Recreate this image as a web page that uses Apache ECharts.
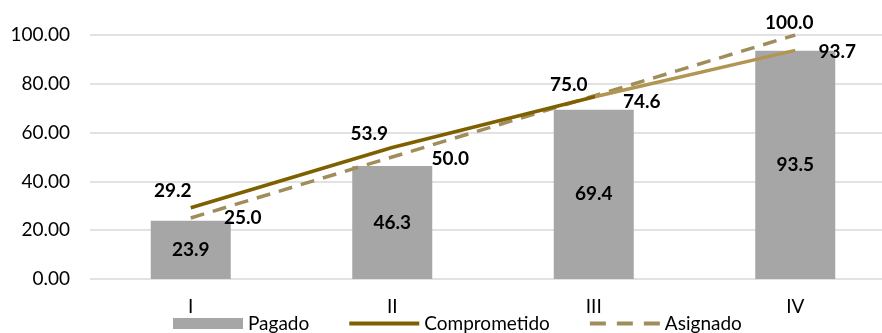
<!DOCTYPE html>
<html>
<head>
<meta charset="utf-8">
<style>
  html, body { margin: 0; padding: 0; background: #ffffff; }
  #chart { width: 882px; height: 333px; }
</style>
<script src="https://cdn.jsdelivr.net/npm/echarts@6/dist/echarts.min.js"></script>
</head>
<body>
<div id="chart"></div>
<script>
// Quarterly budget progress (%)
const categories = ['I', 'II', 'III', 'IV'];
const pagado = [23.9, 46.3, 69.4, 93.5];
const comprometido = [29.2, 53.9, 74.6, 93.7];
const asignado = [25.0, 50.0, 75.0, 100.0];

// label nudges for the line values, [dx, dy] from each point
const comprometidoLabelOffsets = [[-18, -17], [-23, -14], [48, 5], [42, 2]];
const asignadoLabelOffsets = [[52, 0], [58, 2], [-25, -11], [-6, -12]];

const FONT = 'Lato, "Noto Sans", sans-serif';
const DARK_GOLD = '#7f6000';
const LIGHT_GOLD = '#b39552';
const DASH_GOLD = '#a08d5c';

const valueLabel = {
  show: true,
  position: 'inside',
  align: 'center',
  verticalAlign: 'middle',
  color: '#000000',
  fontWeight: 'bold',
  fontSize: 19,
  fontFamily: FONT,
  formatter: p => p.value.toFixed(1)
};

function lineData(values, offsets) {
  return values.map((v, i) => ({
    value: v,
    label: { offset: offsets[i] }
  }));
}

const chart = echarts.init(document.getElementById('chart'), null, { renderer: 'canvas' });

chart.setOption({
  animation: false,
  textStyle: { fontFamily: FONT },
  grid: {
    left: 90, right: -14, top: 35, bottom: 54,
    containLabel: false,
    outerBoundsMode: 'none'
  },
  legend: {
    bottom: -5,
    left: 168,
    itemWidth: 70,
    itemHeight: 11,
    itemGap: 38,
    textStyle: { fontSize: 19, color: '#000000', fontFamily: FONT, padding: [0, 0, 0, 0] },
    data: [
      { name: 'Pagado', icon: 'rect' },
      { name: 'Comprometido', lineStyle: { color: DARK_GOLD, width: 4 } },
      { name: 'Asignado', lineStyle: { width: 4, type: [16, 11] } }
    ]
  },
  xAxis: {
    type: 'category',
    data: categories,
    axisLine: { show: false },
    axisTick: { show: false },
    axisLabel: { color: '#000000', fontSize: 19, fontFamily: FONT, margin: 18 }
  },
  yAxis: {
    type: 'value',
    min: 0,
    max: 100,
    interval: 20,
    axisLine: { show: false },
    axisTick: { show: false },
    splitLine: { lineStyle: { color: '#d9d9d9', width: 1.5 } },
    axisLabel: {
      color: '#000000',
      fontSize: 19,
      fontFamily: FONT,
      margin: 20,
      formatter: v => v.toFixed(2)
    }
  },
  series: [
    {
      name: 'Pagado',
      type: 'bar',
      data: pagado,
      barWidth: 80,
      itemStyle: { color: '#a6a6a6' },
      label: valueLabel,
      z: 1
    },
    {
      name: 'Comprometido',
      type: 'line',
      data: lineData(comprometido, comprometidoLabelOffsets),
      symbol: 'circle',
      symbolSize: 1,
      itemStyle: { color: 'rgba(0,0,0,0)' },
      lineStyle: {
        width: 3.5,
        color: new echarts.graphic.LinearGradient(0, 0, 1, 0, [
          { offset: 0, color: DARK_GOLD },
          { offset: 0.6667, color: DARK_GOLD },
          { offset: 0.6667, color: LIGHT_GOLD },
          { offset: 1, color: LIGHT_GOLD }
        ])
      },
      label: valueLabel,
      z: 3
    },
    {
      name: 'Asignado',
      type: 'line',
      data: lineData(asignado, asignadoLabelOffsets),
      symbol: 'circle',
      symbolSize: 1,
      itemStyle: { color: 'rgba(0,0,0,0)' },
      lineStyle: { width: 3.5, color: DASH_GOLD, type: [14, 9] },
      label: valueLabel,
      z: 2
    }
  ]
});
</script>
</body>
</html>
